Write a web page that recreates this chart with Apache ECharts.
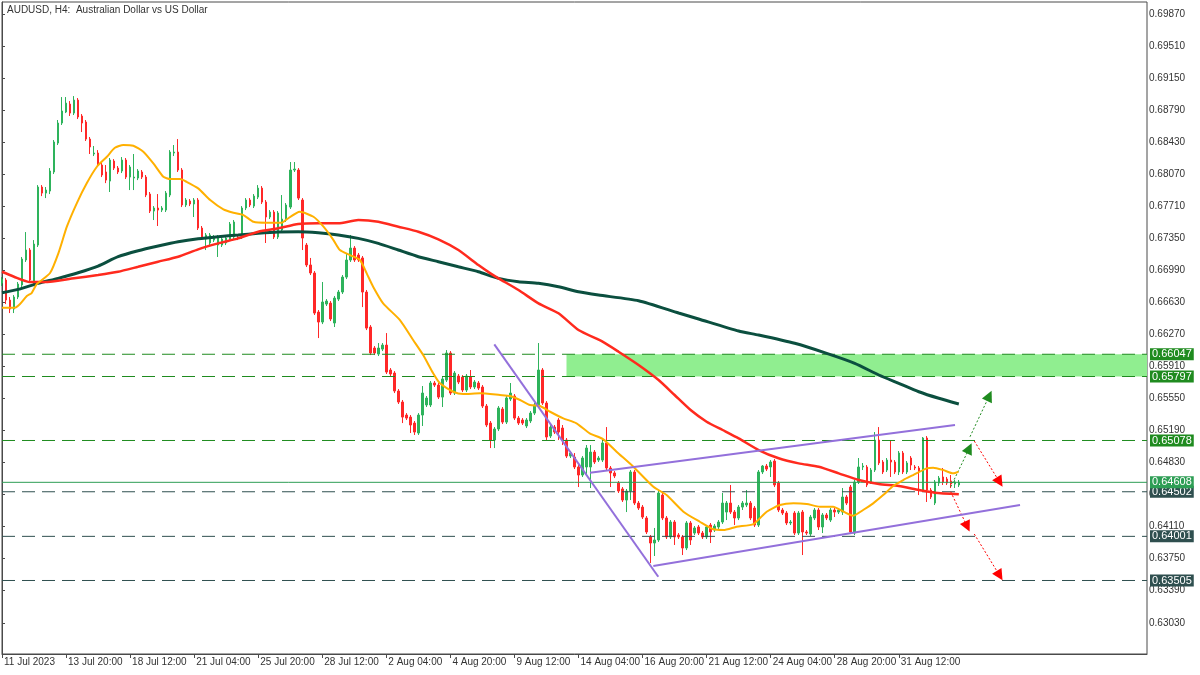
<!DOCTYPE html>
<html><head><meta charset="utf-8">
<script src="https://cdn.jsdelivr.net/npm/echarts@6/dist/echarts.min.js"></script>
<style>html,body{margin:0;padding:0;background:#fff}#c{width:1200px;height:675px}</style>
</head><body><div id="c"></div>
<script>
// ---------- DATA ----------
const chartTitle = 'AUDUSD, H4:  Australian Dollar vs US Dollar';
const xTickLabels = ['11 Jul 2023','13 Jul 20:00','18 Jul 12:00','21 Jul 04:00','25 Jul 20:00','28 Jul 12:00','2 Aug 04:00','4 Aug 20:00','9 Aug 12:00','14 Aug 04:00','16 Aug 20:00','21 Aug 12:00','24 Aug 04:00','28 Aug 20:00','31 Aug 12:00'];
const barsPerTick = 16;
const slotCount = 287; // bars + empty space on the right
const yTicks = [0.63030,0.63390,0.63750,0.64110,0.64470,0.64830,0.65190,0.65550,0.65910,0.66270,0.66630,0.66990,0.67350,0.67710,0.68070,0.68430,0.68790,0.69150,0.69510,0.69870];

const openP = [0.66847,0.66881,0.66656,0.66555,0.66690,0.66825,0.67106,0.67218,0.66859,0.67274,0.67926,0.67858,0.67881,0.68095,0.68420,0.68645,0.68769,0.68858,0.68757,0.68903,
0.68724,0.68656,0.68465,0.68297,0.68308,0.68173,0.68095,0.67993,0.68218,0.68139,0.68106,0.68229,0.68038,0.68027,0.68027,0.68095,0.68038,0.67847,0.67656,0.67690,
0.67667,0.67667,0.67836,0.68308,0.68319,0.68117,0.67724,0.67769,0.67735,0.67780,0.67465,0.67342,0.67297,0.67330,0.67274,0.67274,0.67297,0.67342,0.67364,0.67364,
0.67364,0.67690,0.67780,0.67712,0.67813,0.67914,0.67757,0.67589,0.67645,0.67364,0.67443,0.67555,0.67701,0.68117,0.68117,0.67780,0.67274,0.67050,0.66960,0.66521,
0.66409,0.66611,0.66622,0.66398,0.66667,0.66746,0.66914,0.67106,0.67240,0.67162,0.67129,0.66746,0.66353,0.66117,0.66049,0.66105,0.66150,0.65870,0.65836,0.65634,
0.65510,0.65364,0.65341,0.65274,0.65162,0.65364,0.65477,0.65477,0.65724,0.65701,0.65566,0.65757,0.66061,0.65611,0.65802,0.65791,0.65645,0.65791,0.65679,0.65724,
0.65679,0.65465,0.65274,0.65083,0.65207,0.65431,0.65285,0.65544,0.65578,0.65330,0.65308,0.65241,0.65297,0.65386,0.65477,0.65870,0.65499,0.65128,0.65229,0.65308,
0.65218,0.65083,0.64903,0.64892,0.64780,0.64690,0.64780,0.64780,0.64948,0.64858,0.64858,0.65050,0.64769,0.64713,0.64600,0.64533,0.64409,0.64510,0.64724,0.64375,
0.64330,0.64207,0.63994,0.63926,0.63960,0.64465,0.64207,0.63994,0.64162,0.64016,0.63994,0.63870,0.64151,0.64038,0.64106,0.64038,0.63994,0.64128,0.64072,0.64106,
0.64162,0.64274,0.64375,0.64274,0.64207,0.64330,0.64353,0.64375,0.64319,0.64128,0.64724,0.64791,0.64780,0.64847,0.64600,0.64297,0.64263,0.64151,0.64263,0.64038,
0.64274,0.64050,0.64027,0.64207,0.64297,0.64106,0.64241,0.64184,0.64297,0.64274,0.64274,0.64443,0.64555,0.64038,0.64611,0.64780,0.64780,0.64611,0.64746,0.65083,
0.64836,0.64746,0.64858,0.64836,0.64724,0.64937,0.64724,0.64881,0.64780,0.64769,0.64521,0.65106,0.64521,0.64375,0.64600,0.64668,0.64645,0.64623,0.64589,0.64578];

const closeP = [0.66892,0.66656,0.66555,0.66690,0.66836,0.67117,0.67218,0.66881,0.67285,0.67926,0.67858,0.67892,0.68106,0.68432,0.68645,0.68780,0.68869,0.68757,0.68903,0.68713,
0.68645,0.68465,0.68376,0.68308,0.68173,0.68061,0.68004,0.68229,0.68139,0.68095,0.68229,0.68038,0.68151,0.68038,0.68106,0.68038,0.67836,0.67656,0.67690,0.67667,
0.67690,0.67858,0.68319,0.68319,0.68117,0.67724,0.67780,0.67735,0.67780,0.67465,0.67364,0.67387,0.67387,0.67364,0.67364,0.67342,0.67353,0.67510,0.67533,0.67353,
0.67690,0.67780,0.67724,0.67824,0.67914,0.67757,0.67589,0.67645,0.67364,0.67634,0.67566,0.67724,0.68117,0.68128,0.67802,0.67353,0.67050,0.66960,0.66510,0.66409,
0.66634,0.66645,0.66443,0.66678,0.66746,0.66914,0.67106,0.67240,0.67106,0.67106,0.66746,0.66341,0.66061,0.66061,0.66117,0.66150,0.65847,0.65825,0.65634,0.65510,
0.65341,0.65330,0.65252,0.65173,0.65364,0.65611,0.65555,0.65724,0.65701,0.65566,0.65769,0.66061,0.65611,0.65836,0.65735,0.65645,0.65802,0.65679,0.65735,0.65667,
0.65465,0.65252,0.65083,0.65207,0.65443,0.65285,0.65555,0.65611,0.65330,0.65274,0.65274,0.65308,0.65386,0.65477,0.65870,0.65499,0.65117,0.65229,0.65173,0.65173,
0.65083,0.64903,0.64937,0.64780,0.64690,0.64881,0.64993,0.64948,0.64836,0.64881,0.65050,0.64769,0.64713,0.64679,0.64510,0.64409,0.64510,0.64724,0.64375,0.64319,
0.64218,0.64050,0.63926,0.63960,0.64488,0.64207,0.63994,0.64162,0.63994,0.63994,0.63870,0.64151,0.63960,0.64095,0.64038,0.63994,0.64106,0.64050,0.64117,0.64162,
0.64375,0.64375,0.64274,0.64207,0.64330,0.64375,0.64375,0.64207,0.64128,0.64724,0.64791,0.64757,0.64836,0.64578,0.64297,0.64263,0.64151,0.64162,0.64038,0.64263,
0.64050,0.64038,0.64218,0.64297,0.64106,0.64241,0.64207,0.64297,0.64274,0.64297,0.64443,0.64375,0.64050,0.64611,0.64780,0.64791,0.64578,0.64746,0.65083,0.64825,
0.64724,0.64858,0.64836,0.64724,0.64937,0.64724,0.64825,0.64802,0.64769,0.64735,0.65106,0.64521,0.64443,0.64611,0.64656,0.64611,0.64600,0.64589,0.64611,0.64608];

const lowP = [0.66814,0.66611,0.66510,0.66510,0.66667,0.66802,0.67084,0.66859,0.66825,0.67252,0.67824,0.67802,0.67847,0.68072,0.68398,0.68623,0.68757,0.68724,0.68735,0.68690,
0.68544,0.68443,0.68297,0.68274,0.68151,0.68038,0.67970,0.67870,0.68117,0.68072,0.68083,0.68016,0.67892,0.67892,0.68004,0.68016,0.67813,0.67634,0.67555,0.67488,
0.67645,0.67645,0.67813,0.68274,0.68095,0.67701,0.67701,0.67712,0.67589,0.67443,0.67342,0.67218,0.67274,0.67308,0.67140,0.67252,0.67274,0.67319,0.67342,0.67330,
0.67342,0.67667,0.67701,0.67690,0.67791,0.67735,0.67297,0.67566,0.67342,0.67342,0.67420,0.67533,0.67679,0.68095,0.67780,0.67218,0.67027,0.66937,0.66488,0.66229,
0.66386,0.66589,0.66420,0.66353,0.66645,0.66724,0.66892,0.67084,0.67084,0.67084,0.66577,0.66319,0.66038,0.66038,0.66027,0.66083,0.65825,0.65802,0.65611,0.65488,
0.65274,0.65308,0.65162,0.65140,0.65140,0.65241,0.65454,0.65454,0.65679,0.65544,0.65454,0.65735,0.65589,0.65589,0.65712,0.65622,0.65622,0.65656,0.65656,0.65645,
0.65443,0.65229,0.64993,0.64993,0.65184,0.65263,0.65263,0.65521,0.65308,0.65252,0.65252,0.65218,0.65274,0.65364,0.65454,0.65477,0.65083,0.65106,0.65151,0.65083,
0.65027,0.64881,0.64881,0.64757,0.64555,0.64668,0.64690,0.64544,0.64814,0.64836,0.64836,0.64746,0.64555,0.64656,0.64488,0.64387,0.64274,0.64409,0.64353,0.64297,
0.64196,0.64027,0.63701,0.63780,0.63938,0.64184,0.63971,0.63971,0.63904,0.63971,0.63791,0.63847,0.63904,0.64016,0.64016,0.63971,0.63971,0.63926,0.64050,0.64083,
0.64140,0.64184,0.64252,0.64128,0.64184,0.64297,0.64330,0.64184,0.64106,0.64106,0.64701,0.64735,0.64668,0.64555,0.64274,0.64241,0.64128,0.64128,0.64016,0.64016,
0.63791,0.64016,0.64005,0.64184,0.64072,0.64038,0.64184,0.64162,0.64218,0.64252,0.64241,0.64353,0.64027,0.64016,0.64589,0.64746,0.64555,0.64589,0.64724,0.64802,
0.64701,0.64724,0.64668,0.64701,0.64690,0.64701,0.64701,0.64746,0.64746,0.64465,0.64499,0.64387,0.64420,0.64353,0.64567,0.64578,0.64578,0.64544,0.64544,0.64555];

const highP = [0.66914,0.66903,0.66690,0.66712,0.66859,0.67140,0.67420,0.67240,0.67330,0.67948,0.67948,0.67926,0.68139,0.68454,0.68679,0.68937,0.68937,0.68892,0.68948,0.68926,
0.68746,0.68679,0.68488,0.68387,0.68341,0.68207,0.68173,0.68252,0.68240,0.68162,0.68263,0.68252,0.68173,0.68297,0.68128,0.68117,0.68061,0.67870,0.67712,0.67847,
0.67712,0.67881,0.68341,0.68398,0.68465,0.68139,0.67802,0.67791,0.67802,0.67802,0.67488,0.67409,0.67409,0.67387,0.67387,0.67364,0.67375,0.67533,0.67555,0.67387,
0.67712,0.67802,0.67802,0.67847,0.67948,0.67937,0.67780,0.67667,0.67667,0.67656,0.67836,0.67746,0.68207,0.68207,0.68139,0.67802,0.67297,0.67129,0.66982,0.66544,
0.66859,0.66667,0.66645,0.66701,0.66769,0.66937,0.67185,0.67387,0.67263,0.67185,0.67151,0.66769,0.66375,0.66139,0.66173,0.66173,0.66285,0.65892,0.65858,0.65656,
0.65533,0.65386,0.65364,0.65297,0.65386,0.65690,0.65578,0.65746,0.65746,0.65724,0.65791,0.66094,0.66083,0.65858,0.65825,0.65813,0.65825,0.65870,0.65757,0.65746,
0.65701,0.65488,0.65297,0.65229,0.65465,0.65454,0.65578,0.65724,0.65600,0.65353,0.65330,0.65330,0.65409,0.65499,0.66173,0.65892,0.65521,0.65252,0.65252,0.65330,
0.65252,0.65106,0.64960,0.64937,0.64802,0.64903,0.65027,0.65027,0.64971,0.64903,0.65083,0.65229,0.64791,0.64735,0.64623,0.64555,0.64533,0.64746,0.64746,0.64398,
0.64353,0.64229,0.64016,0.64095,0.64510,0.64488,0.64229,0.64184,0.64184,0.64038,0.64016,0.64173,0.64173,0.64117,0.64128,0.64061,0.64128,0.64151,0.64140,0.64184,
0.64488,0.64398,0.64578,0.64297,0.64353,0.64398,0.64521,0.64398,0.64342,0.64746,0.64802,0.64814,0.64858,0.64870,0.64623,0.64319,0.64285,0.64184,0.64285,0.64285,
0.64297,0.64072,0.64241,0.64319,0.64319,0.64263,0.64263,0.64319,0.64330,0.64319,0.64544,0.64465,0.64578,0.64634,0.64881,0.64825,0.64802,0.64769,0.65173,0.65229,
0.64858,0.64881,0.65083,0.64858,0.64960,0.64960,0.64847,0.64903,0.64802,0.64791,0.65117,0.65128,0.64544,0.64634,0.64679,0.64769,0.64668,0.64690,0.64634,0.64634];

// moving averages read at sample points: [bar position, price]
const maFast = [[0,0.66570],[3.2,0.66570],[4.5,0.66611],[6.2,0.66701],[7.4,0.66735],[8.7,0.66836],[12,0.66960],[14.1,0.67184],[16.2,0.67480],[18.7,0.67746],[21.2,0.67971],[23.7,0.68154],[26.2,0.68266],[28.2,0.68367],[30.3,0.68398],[32.8,0.68390],[35.3,0.68323],[37.8,0.68192],[40.3,0.68042],[42,0.68016],[44.5,0.68016],[46.1,0.67985],[49,0.67911],[52,0.67780],[55.3,0.67675],[57.8,0.67637],[60.3,0.67611],[62.8,0.67536],[66.1,0.67525],[69.9,0.67525],[71.1,0.67563],[74.4,0.67648],[77.8,0.67592],[80.3,0.67480],[82.8,0.67330],[84.4,0.67218],[86.9,0.67162],[89.4,0.67106],[91.1,0.66956],[92.7,0.66806],[95.2,0.66619],[99.4,0.66431],[102.7,0.66207],[105.2,0.66038],[107.7,0.65833],[109.4,0.65720],[112.7,0.65626],[115.2,0.65600],[119.4,0.65608],[124.4,0.65589],[126.9,0.65578],[129.4,0.65533],[131.9,0.65476],[134.4,0.65465],[136.9,0.65401],[140.2,0.65327],[143.5,0.65271],[146.8,0.65158],[150.2,0.65091],[153.5,0.64952],[157.7,0.64783],[162.7,0.64558],[166,0.64465],[170.2,0.64278],[174.3,0.64165],[177.7,0.64080],[180.2,0.64072],[183.5,0.64109],[187.7,0.64139],[191,0.64278],[194.3,0.64353],[197.7,0.64372],[201,0.64364],[204.3,0.64334],[207.6,0.64334],[210.2,0.64278],[212.6,0.64233],[215.1,0.64297],[217.6,0.64372],[220.1,0.64465],[222.6,0.64566],[225.1,0.64634],[227.6,0.64690],[231,0.64765],[232.6,0.64772],[235.1,0.64746],[237.6,0.64709],[238.9,0.64727]];
const maMid = [[0,0.66974],[3,0.66918],[7,0.66858],[12,0.66862],[18,0.66900],[24,0.66937],[29,0.66974],[34,0.67030],[39,0.67087],[44,0.67143],[49,0.67226],[54,0.67293],[59,0.67349],[64,0.67424],[69,0.67462],[74,0.67510],[79,0.67518],[84,0.67518],[89,0.67555],[94,0.67536],[99,0.67480],[104,0.67424],[109,0.67338],[114,0.67218],[119,0.67049],[122,0.66956],[124,0.66900],[129,0.66769],[134,0.66619],[139,0.66507],[144,0.66319],[150,0.66188],[154,0.66075],[159,0.65926],[164,0.65757],[168,0.65589],[172,0.65420],[176,0.65289],[180,0.65196],[184,0.65102],[189,0.64971],[194,0.64878],[199,0.64821],[204,0.64783],[209,0.64709],[214,0.64634],[219,0.64589],[224,0.64566],[229,0.64521],[233,0.64491],[239,0.64473]];
const maSlow = [[0,0.66738],[4,0.66776],[9,0.66844],[14,0.66900],[19,0.66963],[24,0.67038],[29,0.67143],[34,0.67210],[39,0.67263],[44,0.67311],[49,0.67345],[54,0.67368],[59,0.67387],[64,0.67406],[69,0.67420],[74,0.67424],[79,0.67412],[84,0.67387],[89,0.67349],[94,0.67293],[99,0.67218],[104,0.67143],[109,0.67087],[114,0.67030],[119,0.66974],[124,0.66900],[129,0.66862],[134,0.66844],[139,0.66806],[144,0.66749],[149,0.66712],[159,0.66648],[169,0.66510],[174,0.66443],[184,0.66308],[189,0.66263],[198,0.66170],[206,0.66057],[213,0.65945],[219,0.65814],[224,0.65720],[229,0.65626],[234,0.65552],[239,0.65488]];

// horizontal levels
const levelsGreen = [0.66047, 0.65797, 0.65078];
const levelsDark = [0.64502, 0.64001, 0.63505];
const bidPrice = 0.64608;
const zone = { startBar: 141, top: 0.66047, bottom: 0.65797 };

// drawn trend lines: [[bar, price],[bar, price]]
const lineFalling = [[122.97, 0.66158], [163.93, 0.63547]];
const lineUpper = [[146.87, 0.64716], [238.04, 0.65252]];
const lineLower = [[162.68, 0.63667], [254.28, 0.64353]];
const arrowsUp = [[[236.97, 0.64558], [241.6, 0.64990]], [[241.79, 0.65120], [246.6, 0.65580]]];
const arrowsDown = [[[242.86, 0.65072], [249.2, 0.64610]], [[236.97, 0.64502], [241.1, 0.64110]], [[242.86, 0.64027], [249.2, 0.63560]]];

// ---------- CHART ----------
const FONT = 'Liberation Sans';
const AX = '#4a4a4a';
const UP = '#2EB35C', DOWN = '#FF2828';
const GREEN_LVL = '#1F8B1F', DARK_LVL = '#2F4F4F', BID = '#2E9E55';
const Y_MIN = 0.62679, Y_MAX = 0.70005;

const cats = Array.from({length: slotCount}, (_, i) => String(i));
const candles = openP.map((o, i) => [o, closeP[i], lowP[i], highP[i]]);
const isTick = (i) => i % barsPerTick === 0 && i / barsPerTick < xTickLabels.length;

function levelSeries(v, color, solid) {
  return {
    type: 'line', xAxisIndex: 1, data: [[0, v], [slotCount - 1, v]],
    showSymbol: false, silent: true, z: 3,
    lineStyle: { color: color, width: 1, type: solid ? 'solid' : [13, 7] },
    endLabel: {
      show: true, distance: 3, formatter: v.toFixed(5),
      color: '#ffffff', backgroundColor: color,
      fontFamily: FONT, fontSize: 11, padding: [0, 2, 0, 2], lineHeight: 12
    }
  };
}

function arrowSeries(a, color) {
  return {
    type: 'line', xAxisIndex: 1, data: [], z: 8, silent: true,
    markLine: { silent: true, animation: false, symbol: ['none', 'triangle'], symbolSize: 11,
      label: { show: false }, lineStyle: { color: color, width: 1, type: [2, 2] },
      itemStyle: { color: color },
      data: a.map(p => [{ coord: p[0] }, { coord: p[1] }]) }
  };
}

const chart = echarts.init(document.getElementById('c'), null, { renderer: 'canvas' });
chart.setOption({
  animation: false,
  backgroundColor: '#ffffff',
  grid: { left: 2, right: 53, top: 2, bottom: 21, show: true, borderColor: AX, borderWidth: 1 },
  xAxis: [{
    type: 'category', data: cats, boundaryGap: false,
    axisLine: { show: true, lineStyle: { color: AX } },
    axisTick: { show: true, interval: isTick, length: 4, lineStyle: { color: AX } },
    axisLabel: {
      show: true, interval: isTick, align: 'left', margin: 3, color: '#333',
      fontFamily: FONT, fontSize: 10, padding: [0, 0, 0, 2],
      formatter: (v, i) => xTickLabels[Math.round(i / barsPerTick)] || ''
    },
    splitLine: { show: false }
  }, {
    type: 'value', min: 0, max: slotCount - 1, show: false
  }],
  yAxis: {
    type: 'value', position: 'right', min: Y_MIN, max: Y_MAX,
    axisLine: { show: true, lineStyle: { color: AX } },
    axisTick: { show: true, customValues: yTicks, length: 3, lineStyle: { color: AX } },
    axisLabel: { show: true, customValues: yTicks, margin: 2, color: '#333', fontFamily: FONT, fontSize: 10,
      formatter: (v) => v.toFixed(5) },
    splitLine: { show: false }
  },
  graphic: [{
    type: 'text', left: 7, top: 5, z: 100,
    style: { text: chartTitle, fill: '#333', font: '10px "Liberation Sans"' }
  }],
  series: [
    { // zone rectangle
      type: 'line', xAxisIndex: 1, data: [], z: 0, silent: true,
      markArea: { silent: true, itemStyle: { color: '#90EE90', opacity: 1 },
        data: [[{ coord: [zone.startBar, zone.top] }, { coord: [slotCount - 1, zone.bottom] }]] }
    },
    {
      type: 'candlestick', xAxisIndex: 0, data: candles, barWidth: 2, z: 2,
      itemStyle: { color: UP, color0: DOWN, borderColor: UP, borderColor0: DOWN, borderWidth: 1 }
    }
  ].concat(levelsGreen.map(v => levelSeries(v, GREEN_LVL, false)))
   .concat(levelsDark.map(v => levelSeries(v, DARK_LVL, false)))
   .concat([levelSeries(bidPrice, BID, true)])
   .concat([
    { type: 'line', xAxisIndex: 1, data: maSlow, showSymbol: false, smooth: 0.2, z: 4,
      lineStyle: { color: '#0B4F3F', width: 3 } },
    { type: 'line', xAxisIndex: 1, data: maMid, showSymbol: false, smooth: 0.2, z: 5,
      lineStyle: { color: '#FF2A1E', width: 2.5 } },
    { type: 'line', xAxisIndex: 1, data: maFast, showSymbol: false, smooth: 0.2, z: 6,
      lineStyle: { color: '#FFB000', width: 2 } },
    { type: 'line', xAxisIndex: 1, data: lineFalling, showSymbol: false, z: 7, lineStyle: { color: '#9370DB', width: 2 } },
    { type: 'line', xAxisIndex: 1, data: lineUpper, showSymbol: false, z: 7, lineStyle: { color: '#9370DB', width: 2 } },
    { type: 'line', xAxisIndex: 1, data: lineLower, showSymbol: false, z: 7, lineStyle: { color: '#9370DB', width: 2 } },
    arrowSeries(arrowsUp, '#1F8B1F'),
    arrowSeries(arrowsDown, '#FF0000')
  ])
});
</script>
</body></html>
